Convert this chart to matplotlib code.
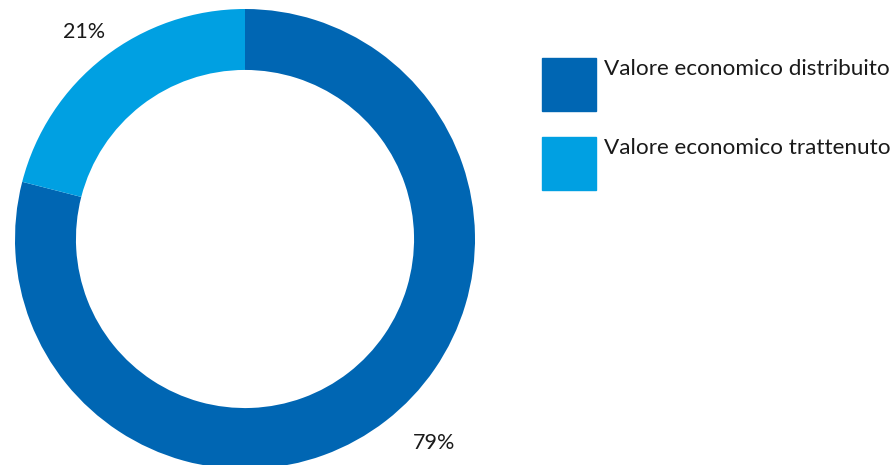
import numpy as np
import matplotlib.pyplot as plt
from matplotlib.patches import Rectangle

plt.rcParams['font.family'] = ['Lato', 'DejaVu Sans']

# data
labels = ["Valore economico distribuito", "Valore economico trattenuto"]
shares = [79, 21]
colors = ["#0066B3", "#00A0E2"]

W, H = 894, 465
fig = plt.figure(figsize=(W / 100, H / 100), dpi=100)

# donut: centre (245, 239) px, outer radius 230 px
cx, cy, r = 245, 239, 230
ax = fig.add_axes([(cx - r) / W, (H - cy - r) / H, 2 * r / W, 2 * r / H])
wedges, _ = ax.pie(shares, colors=colors, startangle=90, counterclock=False,
                   radius=1, wedgeprops=dict(width=0.265, linewidth=0))
ax.set_xlim(-1, 1)
ax.set_ylim(-1, 1)
ax.set_aspect("equal")
ax.axis("off")

# percentage labels outside the ring
label_dist = [1.21, 1.14]
angle_shift = [5, 0]
for w, pct, d, sh in zip(wedges, shares, label_dist, angle_shift):
    ang = np.deg2rad((w.theta1 + w.theta2) / 2 + sh)
    ax.text(d * np.cos(ang), d * np.sin(ang), f"{pct}%", ha="center",
            va="center", fontsize=15.5, color="#1a1a1a", clip_on=False)

# legend drawn by hand: squares with text aligned to their top edge
box_x, box_w, box_h = 542, 54, 53
for i, (lab, col) in enumerate(zip(labels, colors)):
    top = 58 + i * 79
    fig.patches.append(Rectangle((box_x / W, (H - top - box_h) / H),
                                 box_w / W, box_h / H, color=col,
                                 transform=fig.transFigure, figure=fig))
    fig.text(604 / W, (H - top - 1) / H, lab, ha="left", va="top",
             fontsize=16.2, color="#1a1a1a")

fig.savefig("out.png", dpi=100)
